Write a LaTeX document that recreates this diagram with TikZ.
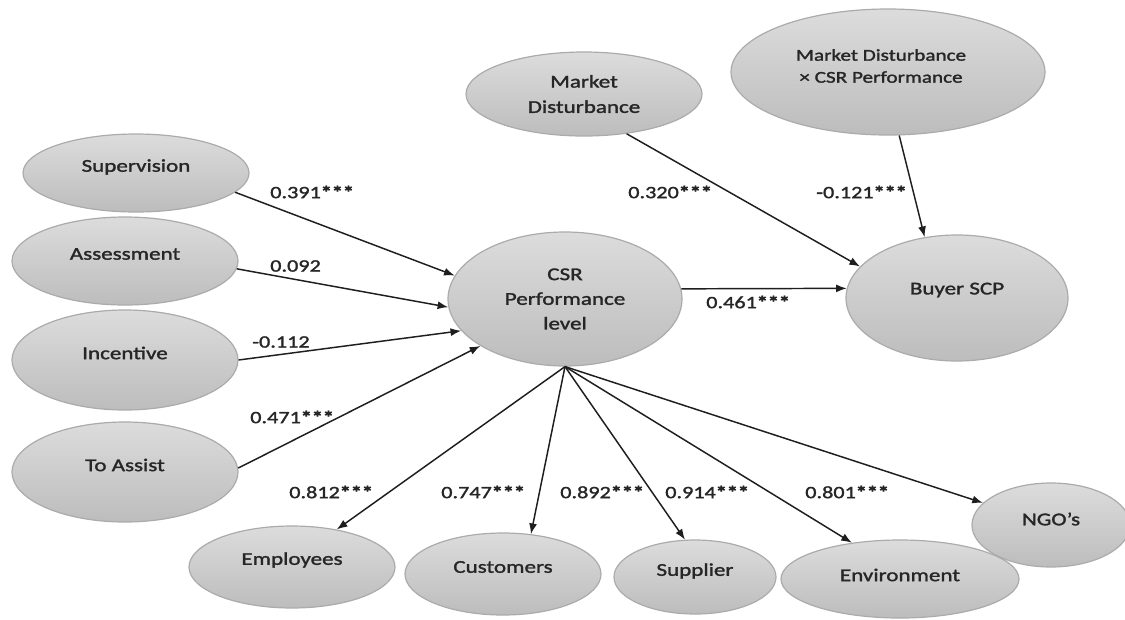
\documentclass[tikz,border=0pt]{standalone}
\usepackage{fontspec}
\setmainfont{Carlito}[FakeStretch=1.28,FakeBold=1.6]
\newfontfamily\boldfam{Carlito}[FakeStretch=1.28,FakeBold=2.5]
\usetikzlibrary{shapes.geometric,arrows.meta}
\definecolor{ellfill}{HTML}{CDCDCD}
\definecolor{elldraw}{HTML}{ABABAB}
\definecolor{txtcol}{HTML}{262626}
\definecolor{arrcol}{HTML}{1E1E1E}
\newcommand{\stars}{{\boldfam\bfseries ***}}
\tikzset{
  ell/.style={ellipse, top color=ellfill!70!white, bottom color=ellfill!92!black, draw=elldraw, line width=0.9pt, inner sep=0pt},
  lbl/.style={text=txtcol, font=\fontsize{13.5}{18}\selectfont, inner sep=0pt, align=center},
  smalllbl/.style={text=txtcol, font=\fontsize{12.4}{16.5}\selectfont, inner sep=0pt, align=center},
  coef/.style={text=txtcol, font=\fontsize{13}{16}\selectfont, inner sep=0pt, anchor=west},
  arr/.style={draw=arrcol, line width=1.1pt, -{Latex[length=8pt,width=6pt]}}
}
\begin{document}
\begin{tikzpicture}[x=0.75pt,y=-0.75pt]
\fill[white] (0,0) rectangle (1125,619);
\useasboundingbox (0,0) rectangle (1125,619);

% ellipses
\node[ell, minimum width=169.5pt, minimum height=58.5pt] (sup) at (136,173) {};
\node[ell, minimum width=169.5pt, minimum height=66pt] (ass) at (125,261) {};
\node[ell, minimum width=169.5pt, minimum height=75pt] (inc) at (125,360) {};
\node[ell, minimum width=169.5pt, minimum height=75pt] (tas) at (125,472) {};
\node[ell, minimum width=175.5pt, minimum height=100.5pt] (csr) at (565,299) {};
\node[ell, minimum width=166.5pt, minimum height=94.5pt] (buy) at (957,298) {};
\node[ell, minimum width=177pt, minimum height=63pt] (md) at (584,94) {};
\node[ell, minimum width=235.5pt, minimum height=94.5pt] (mdx) at (888,72) {};
\node[ell, minimum width=154.5pt, minimum height=61.5pt] (emp) at (292,567) {};
\node[ell, minimum width=147pt, minimum height=61.5pt] (cus) at (503,574) {};
\node[ell, minimum width=121.5pt, minimum height=55.5pt] (spl) at (695,577) {};
\node[ell, minimum width=118.5pt, minimum height=63pt] (ngo) at (1051,525) {};
\node[ell, minimum width=178.5pt, minimum height=58.5pt] (env) at (900,579) {};

% texts
\node[lbl] (tsup) at (136,167) {Supervision};
\node[lbl] (tass) at (125,254) {Assessment};
\node[lbl] (tinc) at (125,353) {Incentive};
\node[lbl] (ttas) at (125,465) {To Assist};
\node[lbl, font=\fontsize{13.5}{18.5}\selectfont] (tcsr) at (565,299) {CSR\\Performance\\level};
\node[lbl] (tbuy) at (957,290) {Buyer SCP};
\node[lbl, font=\fontsize{13.5}{19}\selectfont] (tmd) at (584,94) {Market\\Disturbance};
\node[smalllbl] (tmdx) at (881,66) {Market Disturbance\\× CSR Performance};
\node[lbl] (temp) at (292,560) {Employees};
\node[lbl] (tcus) at (503,567) {Customers};
\node[lbl] (tspl) at (695,571) {Supplier};
\node[lbl] (tenv) at (900,575) {Environment};
\node[lbl] (tngo) at (1051,519) {NGO’s};

% connectors
\draw[arr] (sup.-11) -- (csr.168.7);
\draw[arr] (ass.-4) -- (csr.184);
\draw[arr] (inc.0) -- (csr.197);
\draw[arr] (tas.2) -- (csr.209);
\draw[arr] (csr.5) -- (buy.175);
\draw[arr] (md.-43) -- (buy.162.5);
\draw[arr] (mdx.-80) -- (buy.118);
\draw[arr] (csr.south) -- (emp.40);
\draw[arr] (csr.south) -- (cus.55);
\draw[arr] (csr.south) -- (spl.105);
\draw[arr] (csr.south) -- (env.143);
\draw[arr] (csr.south) -- (ngo.162);

% coefficients
\node[coef] (c1) at (270,192) {0.391\stars};
\node[coef] (c2) at (270,266) {0.092};
\node[coef] (c3) at (252,342) {-0.112};
\node[coef] (c4) at (250,417) {0.471\stars};
\node[coef] (c5) at (628,192) {0.320\stars};
\node[coef] (c6) at (816,192) {-0.121\stars};
\node[coef] (c7) at (706,302) {0.461\stars};
\node[coef] (c8) at (289,492) {0.812\stars};
\node[coef] (c9) at (441,492) {0.747\stars};
\node[coef] (c10) at (560,492) {0.892\stars};
\node[coef] (c11) at (665,492) {0.914\stars};
\node[coef] (c12) at (805,492) {0.801\stars};
\end{tikzpicture}
\end{document}
